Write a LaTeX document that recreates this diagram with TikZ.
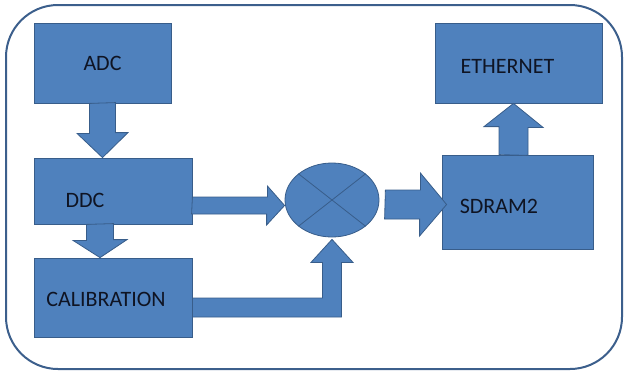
\documentclass[tikz,border=0pt]{standalone}
\usepackage{fontspec}
\setmainfont{Carlito}
\usetikzlibrary{shapes.geometric,calc}

\definecolor{blkfill}{RGB}{79,129,189}
\definecolor{blkline}{RGB}{56,93,138}
\definecolor{frameline}{RGB}{60,95,140}
\definecolor{txtcol}{RGB}{15,20,35}

\begin{document}
\begin{tikzpicture}[x=1pt, y=-1pt,
  blk/.style={fill=blkfill, draw=blkline, line width=0.8pt},
  box/.style={blk, rectangle, inner sep=0pt},
  lbl/.style={text=txtcol, font=\fontsize{22}{26}\selectfont, inner sep=0pt}]
  \useasboundingbox (0,0) rectangle (625,373);
  % Outer frame
  \draw[frameline, line width=2pt, rounded corners=52pt] (6,5) rectangle (622,369);
  % Blocks
  \node[box, minimum width=137, minimum height=80] (adc) at (102.5,63) {};
  \node[box, minimum width=158, minimum height=66] (ddc) at (113,191) {};
  \node[box, minimum width=158, minimum height=79] (cal) at (113,297.5) {};
  \node[blk, ellipse, minimum width=94, minimum height=74, inner sep=0pt] (mix) at (332,200) {};
  \node[box, minimum width=151, minimum height=94] (sdram) at (517.5,202) {};
  \node[box, minimum width=167, minimum height=80] (eth) at (518.5,63) {};
  % Multiplier cross
  \draw[blkline, line width=0.8pt] (mix.142) -- (mix.-38);
  \draw[blkline, line width=0.8pt] (mix.38) -- (mix.-142);
  % Block arrows
  \filldraw[blk] ($(adc.south)+(-13,0)$) -- ++(0,30) -- ++(-12.5,0) -- (adc.south |- ddc.north)
    -- ++(25.5,-25) -- ++(-12.5,0) -- ++(0,-30) -- cycle;
  \filldraw[blk] ($(ddc.south)+(-26.5,0)$) -- ++(0,16) -- ++(-13.5,0) -- ($(ddc.south |- cal.north)+(-13,0)$)
    -- ++(27,-18) -- ++(-13.5,0) -- ++(0,-16) -- cycle;
  \coordinate (d1) at ($(ddc.east)+(0,14.5)$);
  \filldraw[blk] ($(d1)+(0,-8.5)$) -- ++(75,0) -- ++(0,-11) -- (d1 -| mix.west)
    -- ++(-18,19.5) -- ++(0,-11) -- ++(-75,0) -- cycle;
  \coordinate (m1) at ($(mix.east)+(6,4.5)$);
  \filldraw[blk] ($(m1)+(0,-14.5)$) -- ++(35,0) -- ++(0,-17) -- ($(m1 -| sdram.west)+(5,0)$)
    -- ++(-27,31.5) -- ++(0,-17) -- ++(-35,0) -- cycle;
  \filldraw[blk] ($(sdram.north)+(-18.5,0)$) -- ++(0,-28) -- ++(-15,0) -- ($(sdram.north |- eth.south)+(-4,0)$)
    -- ++(29.5,24) -- ++(-15,0) -- ++(0,28) -- cycle;
  \coordinate (c1) at ($(cal.east)+(0,10)$);
  \filldraw[blk] ($(c1)+(0,-9.5)$) -- ($(c1 -| mix.south)+(-9.5,-9.5)$) -- ($(mix.south)+(-9.5,25)$)
    -- ++(-11.5,0) -- ($(mix.south)+(0,2)$) -- ++(21,23) -- ++(-11.5,0)
    -- ($(c1 -| mix.south)+(9.5,9.5)$) -- ($(c1)+(0,9.5)$) -- cycle;
  % Labels
  \node[lbl] (adc-t) at (adc) {ADC};
  \node[lbl] (ddc-t) at ($(ddc)+(-28,9)$) {DDC};
  \node[lbl] (cal-t) at ($(cal)+(-7,1.5)$) {CALIBRATION};
  \node[lbl] (sdram-t) at ($(sdram)+(-18.5,4)$) {SDRAM2};
  \node[lbl] (eth-t) at ($(eth)+(-11,3)$) {ETHERNET};
\end{tikzpicture}
\end{document}
